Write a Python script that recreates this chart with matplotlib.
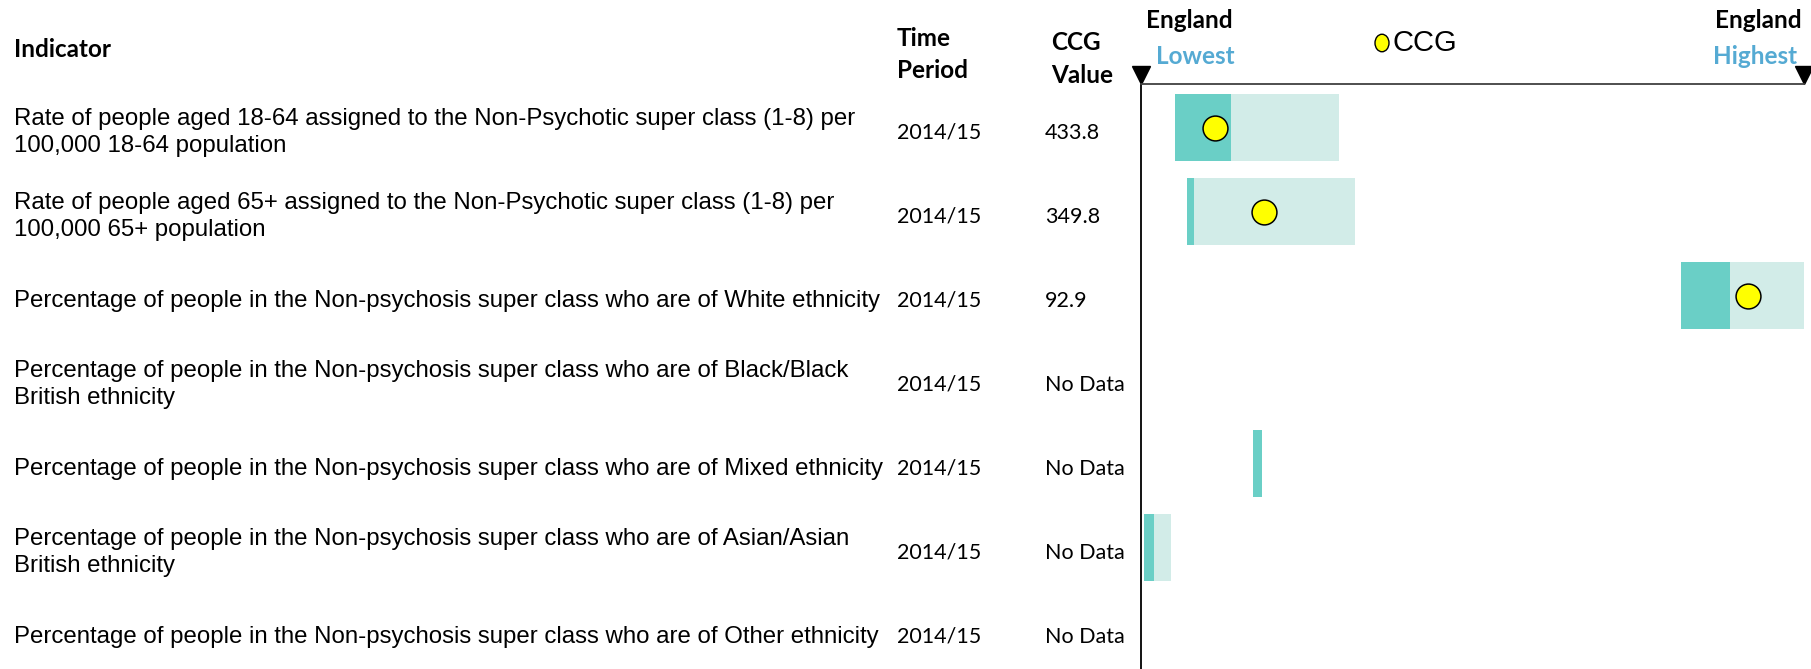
import numpy as np
import matplotlib
matplotlib.use("Agg")
import matplotlib.pyplot as plt
from matplotlib.patches import Ellipse
from matplotlib.transforms import blended_transform_factory

nan = np.nan

indicators = [
    "Rate of people aged 18-64 assigned to the Non-Psychotic super class (1-8) per\n100,000 18-64 population",
    "Rate of people aged 65+ assigned to the Non-Psychotic super class (1-8) per\n100,000 65+ population",
    "Percentage of people in the Non-psychosis super class who are of White ethnicity",
    "Percentage of people in the Non-psychosis super class who are of Black/Black\nBritish ethnicity",
    "Percentage of people in the Non-psychosis super class who are of Mixed ethnicity",
    "Percentage of people in the Non-psychosis super class who are of Asian/Asian\nBritish ethnicity",
    "Percentage of people in the Non-psychosis super class who are of Other ethnicity",
]
periods = ["2014/15"] * 7
ccg_values = ["433.8", "349.8", "92.9", "No Data", "No Data", "No Data", "No Data"]

# spine positions, 0 = England lowest, 1 = England highest
dark_start = np.array([0.051, 0.070, 0.814, nan, 0.169, 0.005, nan])
dark_end = np.array([0.135, 0.080, 0.888, nan, 0.182, 0.019, nan])
light_end = np.array([0.298, 0.323, 1.000, nan, nan, 0.045, nan])
ccg_pos = np.array([0.111, 0.185, 0.915, nan, nan, nan, nan])

DARK = "#6ACFC6"
LIGHT = "#D2ECE8"
BLUE = "#55AAD3"
HEAD = "Lato"
BODY = "Liberation Sans"
HSIZE = 17.5

W, H = 1811, 669
fig = plt.figure(figsize=(W / 100, H / 100), dpi=100)


def fx(x):
    return x / W


def fy(y):
    return 1 - y / H


# chart area: from the England lowest line to the right edge, header line at y=84
ax = fig.add_axes([fx(1141), 0, fx(1804) - fx(1141), (H - 84) / H])
rows = np.arange(len(indicators))
ax.set_xlim(0, 1)
ax.set_ylim(6.446, -0.518)

ax.barh(rows, light_end - dark_end, left=dark_end, height=0.8, color=LIGHT, zorder=1)
ax.barh(rows, dark_end - dark_start, left=dark_start, height=0.8, color=DARK, zorder=2)
ax.scatter(ccg_pos, rows, s=320, c="#FFFF00", edgecolors="black", linewidths=1.1, zorder=3)

for side in ["right", "bottom"]:
    ax.spines[side].set_visible(False)
ax.spines["top"].set_color("#404040")
ax.spines["top"].set_linewidth(1.3)
ax.spines["left"].set_color("black")
ax.spines["left"].set_linewidth(1.3)
ax.set_xticks([])
ax.set_yticks([])

# down-pointing markers at both ends of the scale
tri = blended_transform_factory(ax.transData, ax.transAxes)
ax.plot([0, 1], [1.0155, 1.0155], ls="none", marker="v", ms=13, color="black",
        transform=tri, clip_on=False)

# table columns, rows follow the chart's y scale
rt = blended_transform_factory(fig.transFigure, ax.transData)
shift = 0.06
for i in rows:
    fig.text(fx(14), i + shift, indicators[i], transform=rt, ha="left", va="center",
             fontsize=17.3, family=BODY, linespacing=1.31)
    fig.text(fx(897), i + shift, periods[i], transform=rt, ha="left", va="center",
             fontsize=15.5, family=HEAD)
    fig.text(fx(1045), i + shift, ccg_values[i], transform=rt, ha="left", va="center",
             fontsize=15.5, family=HEAD)

# headers
def head(x, y, s, ha="left", color="black"):
    fig.text(fx(x), fy(y), s, ha=ha, va="baseline", fontsize=HSIZE,
             family=HEAD, weight="bold", color=color)


head(14, 57, "Indicator")
head(897, 45.5, "Time")
head(897, 77.5, "Period")
head(1051, 50, "CCG")
head(1051, 83, "Value")
head(1146, 28, "England")
head(1156, 63.5, "Lowest", color=BLUE)
head(1802, 28, "England", ha="right")
head(1797, 63.5, "Highest", ha="right", color=BLUE)

# legend key
fig.patches.append(Ellipse((fx(1382), fy(43)), fx(14), 17.5 / H, facecolor="#FFFF00",
                           edgecolor="black", linewidth=1, transform=fig.transFigure))
fig.text(fx(1392), fy(43), "CCG", ha="left", va="center", fontsize=21, family=BODY)

fig.savefig("out.png", dpi=100, facecolor="white")
